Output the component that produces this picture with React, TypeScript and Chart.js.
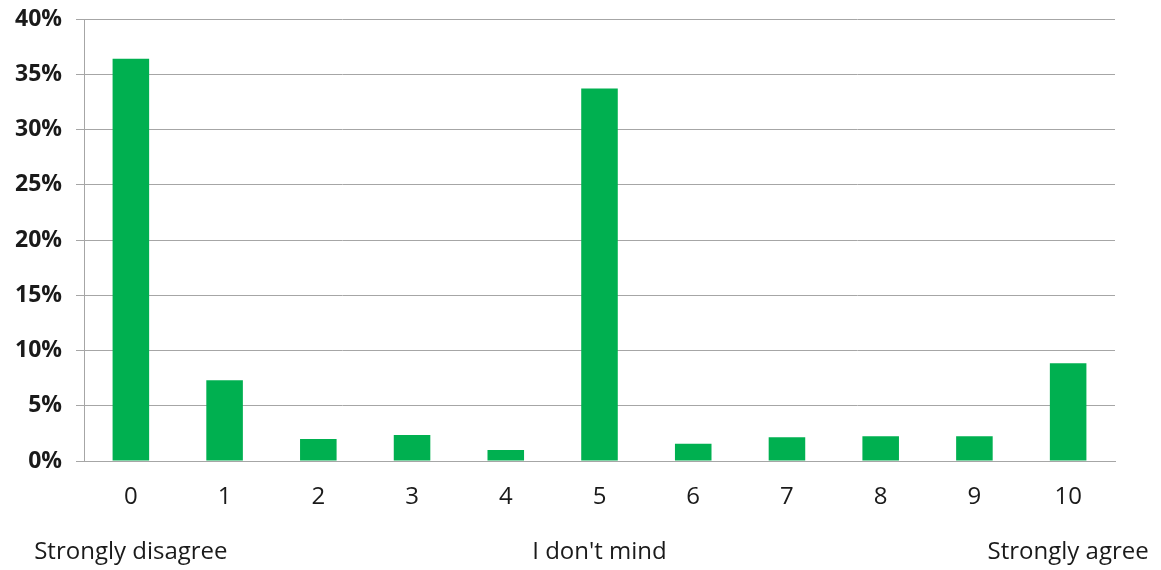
import React, { useEffect, useRef } from "react";
import { Chart, registerables } from "chart.js";

Chart.register(...registerables);

const categories = ["0", "1", "2", "3", "4", "5", "6", "7", "8", "9", "10"];
const anchorLabels = ["Strongly disagree", "", "", "", "", "I don't mind", "", "", "", "", "Strongly agree"];
const shares = [36.4, 7.3, 2.0, 2.35, 1.0, 33.7, 1.55, 2.15, 2.25, 2.25, 8.85];
const yTicks = [0, 5, 10, 15, 20, 25, 30, 35, 40];

export default function App() {
  const ref = useRef<HTMLCanvasElement | null>(null);
  useEffect(() => {
    document.body.style.margin = "0";
    const canvas = ref.current;
    if (!canvas) return;
    const labels = categories.map((c, i) => (anchorLabels[i] ? [c, "", anchorLabels[i]] : [c]));
    const zeroPad = (scale: any) => {
      scale.paddingLeft = 0;
      scale.paddingRight = 0;
      scale.paddingTop = 0;
      scale.paddingBottom = 0;
    };
    const chart = new Chart(canvas, {
      type: "bar",
      data: {
        labels,
        datasets: [
          {
            data: shares,
            backgroundColor: "#00B050",
            borderWidth: 0,
            barPercentage: 0.39,
            categoryPercentage: 1,
          },
        ],
      },
      options: {
        animation: false,
        responsive: false,
        maintainAspectRatio: false,
        layout: { padding: { top: 19, right: 46, left: 0, bottom: 0 } },
        plugins: { legend: { display: false }, tooltip: { enabled: false } },
        scales: {
          x: {
            grid: { display: false, drawTicks: false },
            border: { display: true, color: "#a6a6a6", width: 1 },
            ticks: {
              color: "#1a1a1a",
              font: { family: "Open Sans", size: 24, lineHeight: 1.15 },
              padding: 22,
              autoSkip: false,
              maxRotation: 0,
              minRotation: 0,
            },
            afterFit: (scale: any) => {
              scale.height = 109;
              zeroPad(scale);
            },
          },
          y: {
            min: 0,
            max: 40,
            afterBuildTicks: (scale: any) => {
              scale.ticks = yTicks.map((v) => ({ value: v }));
            },
            grid: { color: "#a6a6a6", lineWidth: 1, drawTicks: true, tickLength: 8 },
            border: { display: true, color: "#a6a6a6", width: 1 },
            ticks: {
              color: "#1a1a1a",
              font: { family: "Open Sans", size: 23, weight: "bold" },
              padding: 14,
              callback: (v: any) => v + "%",
            },
            afterFit: (scale: any) => {
              scale.width = 84;
              zeroPad(scale);
            },
          },
        },
      },
    });
    return () => chart.destroy();
  }, []);
  return <canvas ref={ref} width={1161} height={570} style={{ display: "block" }} />;
}
